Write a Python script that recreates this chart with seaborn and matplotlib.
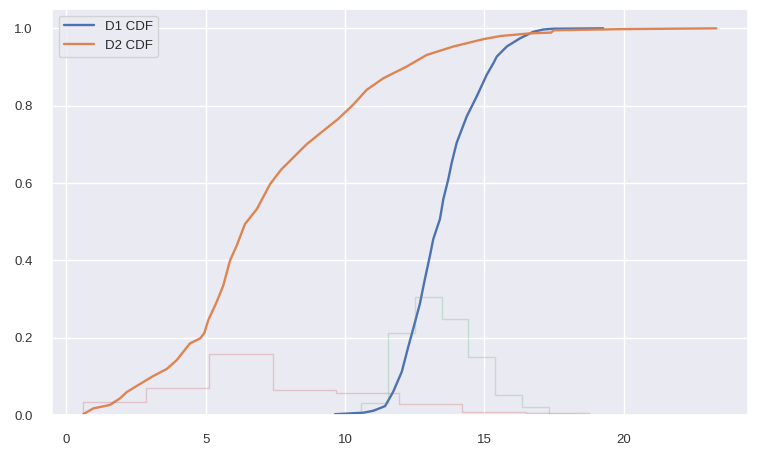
import matplotlib
matplotlib.use("Agg")
import matplotlib.pyplot as plt
import seaborn as sns

d1_x = [9.64, 10.66, 11.02, 11.44, 11.73, 12.04, 12.27, 12.45, 12.69, 12.87,
        13.05, 13.17, 13.41, 13.53, 13.71, 13.83, 14.01, 14.19, 14.37, 14.73,
        15.09, 15.33, 15.45, 15.81, 16.28, 16.76, 17.12, 17.48, 19.27]
d1_y = [0.002, 0.006, 0.011, 0.023, 0.060, 0.112, 0.176, 0.223, 0.288, 0.352,
        0.412, 0.455, 0.507, 0.558, 0.610, 0.652, 0.704, 0.738, 0.772, 0.824,
        0.880, 0.910, 0.927, 0.953, 0.974, 0.991, 0.997, 0.999, 1.0]

d2_x = [0.60, 0.96, 1.56, 1.92, 2.16, 2.52, 3.12, 3.60, 3.96, 4.43,
        4.80, 4.95, 5.09, 5.39, 5.63, 5.87, 6.11, 6.41, 6.83, 7.31, 7.70,
        8.62, 9.10, 9.76, 10.30, 10.78, 11.38, 12.21, 12.93, 13.89, 14.97,
        15.57, 16.64, 17.40, 17.50, 20.0, 23.33]
d2_y = [0.002, 0.017, 0.026, 0.043, 0.059, 0.075, 0.101, 0.119, 0.142, 0.185,
        0.198, 0.212, 0.245, 0.292, 0.335, 0.399, 0.438, 0.494, 0.532, 0.597, 0.634,
        0.700, 0.728, 0.766, 0.803, 0.841, 0.871, 0.901, 0.931, 0.953, 0.972,
        0.980, 0.987, 0.989, 0.995, 0.998, 1.0]

# density histograms (10 bins each)
d1_edges = [9.62, 10.58, 11.54, 12.50, 13.47, 14.43, 15.39, 16.35, 17.32, 18.28, 19.24]
d1_dens = [0.001, 0.030, 0.213, 0.306, 0.247, 0.150, 0.051, 0.0215, 0.003, 0.0005]

d2_edges = [0.58, 2.85, 5.13, 7.40, 9.67, 11.94, 14.21, 16.49, 18.76, 21.04, 23.31]
d2_dens = [0.034, 0.069, 0.157, 0.065, 0.057, 0.028, 0.0085, 0.0043, 0.0, 0.001]

sns.set_theme(style="darkgrid")
plt.rcParams['font.family'] = ['Liberation Sans', 'DejaVu Sans']

fig, ax = plt.subplots(figsize=(7.79, 4.51), dpi=100)
pal = sns.color_palette("deep")

sns.lineplot(x=d1_x, y=d1_y, color=pal[0], linewidth=1.7, label='D1 CDF', ax=ax)
sns.lineplot(x=d2_x, y=d2_y, color=pal[1], linewidth=1.7, label='D2 CDF', ax=ax)


def centers(edges):
    return [(a + b) / 2 for a, b in zip(edges[:-1], edges[1:])]


# a tiny empty bin in front so the step outline rises from zero
sns.histplot(x=centers(d1_edges), weights=d1_dens, bins=[d1_edges[0] - 0.01] + d1_edges,
             element='step', fill=False, color=pal[2], alpha=0.25, linewidth=1, ax=ax)
sns.histplot(x=centers(d2_edges), weights=d2_dens, bins=[d2_edges[0] - 0.01] + d2_edges,
             element='step', fill=False, color=pal[3], alpha=0.25, linewidth=1, ax=ax)

ax.set_xlim(-0.52, 24.47)
ax.set_ylim(0, 1.05)
ax.set_xlabel('')
ax.set_ylabel('')
ax.set_xticks([0, 5, 10, 15, 20])
ax.set_yticks([0.0, 0.2, 0.4, 0.6, 0.8, 1.0])
ax.tick_params(labelsize=9.5, pad=8, colors='#333333')
ax.legend(loc='upper left', fontsize=9.5, handlelength=2.3)

fig.subplots_adjust(left=52 / 779, right=748 / 779, top=1 - 9 / 451, bottom=1 - 415 / 451)
fig.savefig('out.png', dpi=100)
